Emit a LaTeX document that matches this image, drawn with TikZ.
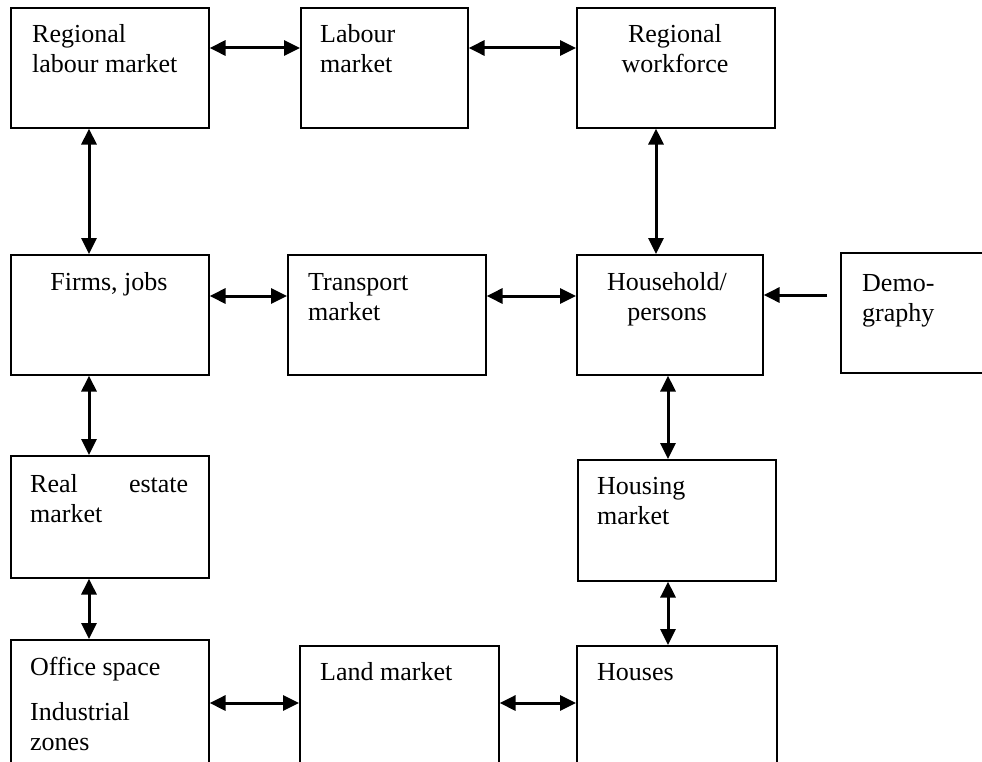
\documentclass[tikz,border=0pt]{standalone}
\usepackage{fontspec}
\setmainfont{Liberation Serif}
\usetikzlibrary{arrows.meta}

\tikzset{
    box/.style={draw, line width=1.6pt, anchor=north west, inner sep=0pt},
    lbl/.style={anchor=base west, align=left, inner sep=0pt, font=\fontsize{26}{30}\selectfont},
    clbl/.style={anchor=base, align=center, inner sep=0pt, font=\fontsize{26}{30}\selectfont},
    dblarrow/.style={{Triangle[length=16pt,width=15pt]}-{Triangle[length=16pt,width=15pt]}, line width=3pt},
    sglarrow/.style={-{Triangle[length=16pt,width=15pt]}, line width=3pt}
}

\begin{document}
\begin{tikzpicture}[x=1pt, y=-1pt]
        \useasboundingbox (0,0) rectangle (982,762);
        \clip (0,0) rectangle (982,762);
        \node[box, minimum width=198pt, minimum height=120pt] (reglab) at (10,7) {};
        \node[box, minimum width=167pt, minimum height=120pt] (labour) at (300,7) {};
        \node[box, minimum width=198pt, minimum height=120pt] (workforce) at (576,7) {};
        \node[box, minimum width=198pt, minimum height=120pt] (firms) at (10,254) {};
        \node[box, minimum width=198pt, minimum height=120pt] (transport) at (287,254) {};
        \node[box, minimum width=186pt, minimum height=120pt] (household) at (576,254) {};
        \node[box, minimum width=200pt, minimum height=120pt] (demog) at (840,252) {};
        \node[box, minimum width=198pt, minimum height=122pt] (realestate) at (10,455) {};
        \node[box, minimum width=198pt, minimum height=121pt] (housing) at (577,459) {};
        \node[box, minimum width=198pt, minimum height=160pt] (office) at (10,639) {};
        \node[box, minimum width=199pt, minimum height=160pt] (land) at (299,645) {};
        \node[box, minimum width=200pt, minimum height=160pt] (houses) at (576,645) {};
        \node[lbl] (reglab-t) at (32,73) {Regional\\labour market};
        \node[lbl] (labour-t) at (320,73) {Labour\\market};
        \node[clbl] (workforce-t) at (675,73) {Regional\\workforce};
        \node[clbl] (firms-t) at (109,290) {Firms, jobs};
        \node[lbl] (transport-t) at (308,320) {Transport\\market};
        \node[clbl] (household-t) at (667,320) {Household/\\persons};
        \node[lbl] (demog-t) at (862,321) {Demo-\\graphy};
        \node[lbl] (realestate-t) at (30,522) {\makebox[158pt][s]{Real estate}\\market};
        \node[lbl] (housing-t) at (597,524) {Housing\\market};
        \node[lbl] (office-t) at (30,750) {Office space\\[15pt]Industrial\\zones};
        \node[lbl] (land-t) at (320,680) {Land market};
        \node[lbl] (houses-t) at (597,680) {Houses};
        \draw[dblarrow] (reglab.east |- 0,48) -- (labour.west |- 0,48);
        \draw[dblarrow] (labour.east |- 0,48) -- (workforce.west |- 0,48);
        \draw[dblarrow] (reglab.south -| 89,0) -- (firms.north -| 89,0);
        \draw[dblarrow] (workforce.south -| 656,0) -- (household.north -| 656,0);
        \draw[dblarrow] (firms.east |- 0,296) -- (transport.west |- 0,296);
        \draw[dblarrow] (transport.east |- 0,296) -- (household.west |- 0,296);
        \draw[sglarrow, shorten <=13pt] (demog.west |- 0,295) -- (household.east |- 0,295);
        \draw[dblarrow] (firms.south -| 89,0) -- (realestate.north -| 89,0);
        \draw[dblarrow] (household.south -| 668,0) -- (housing.north -| 668,0);
        \draw[dblarrow] (realestate.south -| 89,0) -- (office.north -| 89,0);
        \draw[dblarrow] (housing.south -| 668,0) -- (houses.north -| 668,0);
        \draw[dblarrow] (office.east |- 0,703) -- (land.west |- 0,703);
        \draw[dblarrow] (land.east |- 0,703) -- (houses.west |- 0,703);
\end{tikzpicture}
\end{document}
